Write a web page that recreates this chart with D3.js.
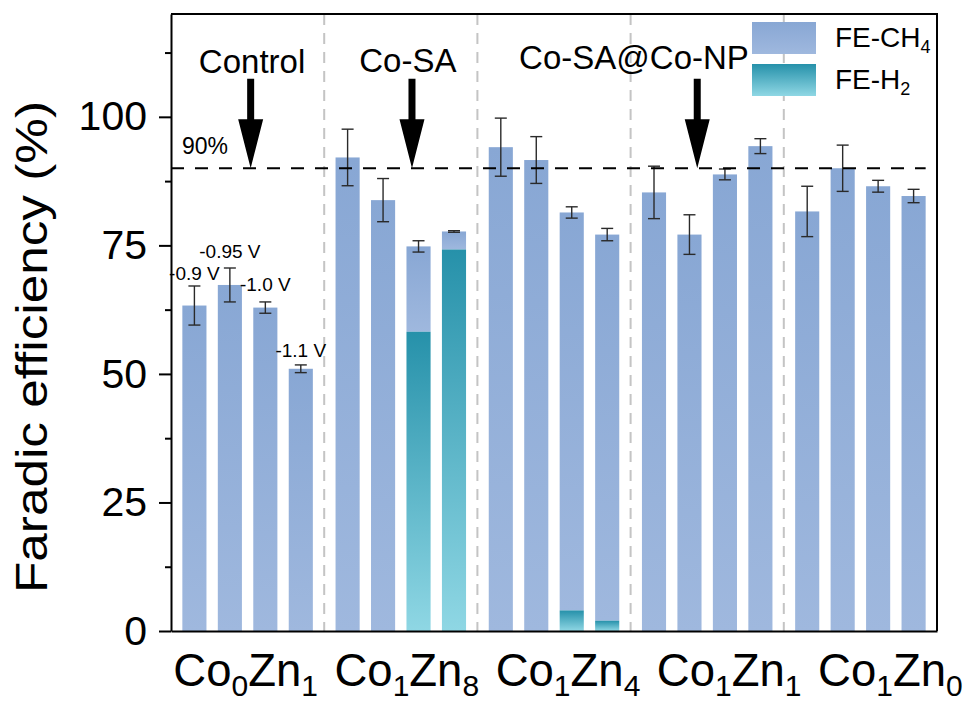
<!DOCTYPE html>
<html>
<head>
<meta charset="utf-8">
<script src="https://cdn.jsdelivr.net/npm/d3@7"></script>
<style>
  body { margin: 0; background: #fff; }
  svg { display: block; font-family: "Liberation Sans", Arial, sans-serif; }
</style>
</head>
<body>
<svg id="chart" width="968" height="704"></svg>
<script>
// ---- data ----
const catalysts = ['Co0Zn1', 'Co1Zn8', 'Co1Zn4', 'Co1Zn1', 'Co1Zn0'];
const potentials = ['-0.9 V', '-0.95 V', '-1.0 V', '-1.1 V'];

// FE-CH4 (%) per catalyst, one value per potential
const feCH4 = [
  [63.3, 67.3, 62.9, 51.0],
  [92.1, 83.8, 16.6, 3.5],
  [94.1, 91.6, 77.4, 75.1],
  [85.3, 77.1, 88.8, 94.3],
  [81.6, 90.0, 86.5, 84.6]
];
// FE-H2 (%) stacked underneath
const feH2 = [
  [0, 0, 0, 0],
  [0, 0, 58.2, 74.2],
  [0, 0, 4.0, 2.0],
  [0, 0, 0, 0],
  [0, 0, 0, 0]
];
// error (+/-) on the total
const feErr = [
  [3.8, 3.3, 1.1, 0.75],
  [5.5, 4.2, 1.1, 0.15],
  [5.65, 4.55, 1.1, 1.2],
  [5.1, 3.85, 1.05, 1.45],
  [4.9, 4.5, 1.15, 1.3]
];

// potential labels above the Control bars (baseline, in %)
const potentialLabelY = [68.3, 72.5, 66.1, 53.3];

// group annotations, x in catalyst units (0..5)
const notes = ['Control', 'Co-SA', 'Co-SA@Co-NP'];
const noteX = [0.529, 1.546, 3.022];
const noteY = [108.5, 108.8, 109.3];
const arrowX = [0.520, 1.573, 3.435];
const arrowTop = 107.4;
const threshold = 90;

const yTicks = [0, 25, 50, 75, 100];
const yMinorTicks = [12.5, 37.5, 62.5, 87.5, 112.5];

// ---- chart ----
const svgEl = document.getElementById('chart');
const margin = { top: 14, right: 31, bottom: 73, left: 171 };
const width = +svgEl.getAttribute('width') - margin.left - margin.right;
const height = +svgEl.getAttribute('height') - margin.top - margin.bottom;

const root = d3.select(svgEl);
const defs = root.append('defs');

const ch4Grad = defs.append('linearGradient').attr('id', 'gradCH4')
  .attr('x1', 0).attr('y1', 0).attr('x2', 0).attr('y2', 1);
ch4Grad.append('stop').attr('offset', '0%').attr('stop-color', '#88a7d4');
ch4Grad.append('stop').attr('offset', '100%').attr('stop-color', '#9fb8de');

const h2Grad = defs.append('linearGradient').attr('id', 'gradH2')
  .attr('x1', 0).attr('y1', 0).attr('x2', 0).attr('y2', 1);
h2Grad.append('stop').attr('offset', '0%').attr('stop-color', '#2691aa');
h2Grad.append('stop').attr('offset', '100%').attr('stop-color', '#8fd7e4');

const svg = root.append('g')
  .attr('transform', `translate(${margin.left},${margin.top})`);

const x = d3.scaleBand().domain(catalysts).range([0, width]).padding(0);
const xInner = d3.scaleBand().domain(potentials).range([0, x.bandwidth()]).padding(0.32);
const xc = d3.scaleLinear().domain([0, catalysts.length]).range([0, width]);
// the category labels sit on a slightly wider spread than the bar groups
const xLabel = d3.scaleBand().domain(catalysts).range([-6, 800]).padding(0);
const y = d3.scaleLinear().domain([0, 120]).range([height, 0]);

// group separators
svg.append('g').attr('class', 'separators')
  .selectAll('line')
  .data(d3.range(1, catalysts.length))
  .join('line')
  .attr('x1', (d) => xc(d)).attr('x2', (d) => xc(d))
  .attr('y1', 0).attr('y2', height)
  .attr('stroke', '#c4c4c4')
  .attr('stroke-width', 2)
  .attr('stroke-dasharray', '11,8');

// flatten bars
const bars = [];
catalysts.forEach((cat, i) => {
  potentials.forEach((pot, j) => {
    bars.push({
      cat, pot,
      ch4: feCH4[i][j],
      h2: feH2[i][j],
      err: feErr[i][j],
      total: feCH4[i][j] + feH2[i][j]
    });
  });
});
const barX = (d) => x(d.cat) + xInner(d.pot);

const barG = svg.append('g').attr('class', 'bars');
barG.selectAll('rect.ch4')
  .data(bars)
  .join('rect')
  .attr('class', 'ch4')
  .attr('x', barX)
  .attr('width', xInner.bandwidth())
  .attr('y', (d) => y(d.total))
  .attr('height', (d) => y(d.h2) - y(d.total))
  .attr('fill', 'url(#gradCH4)');

barG.selectAll('rect.h2')
  .data(bars.filter((d) => d.h2 > 0))
  .join('rect')
  .attr('class', 'h2')
  .attr('x', barX)
  .attr('width', xInner.bandwidth())
  .attr('y', (d) => y(d.h2))
  .attr('height', (d) => y(0) - y(d.h2))
  .attr('fill', 'url(#gradH2)');

// error bars
const errG = svg.append('g').attr('class', 'errors')
  .attr('stroke', '#2a2a2a').attr('stroke-width', 1.4);
const cap = 6;
bars.forEach((d) => {
  const cx = barX(d) + xInner.bandwidth() / 2;
  const g = errG.append('g');
  g.append('line').attr('x1', cx).attr('x2', cx)
    .attr('y1', y(d.total + d.err)).attr('y2', y(d.total - d.err));
  g.append('line').attr('x1', cx - cap).attr('x2', cx + cap)
    .attr('y1', y(d.total + d.err)).attr('y2', y(d.total + d.err));
  g.append('line').attr('x1', cx - cap).attr('x2', cx + cap)
    .attr('y1', y(d.total - d.err)).attr('y2', y(d.total - d.err));
});

// 90 % line
const lastBar = bars[bars.length - 1];
svg.append('line')
  .attr('x1', 0).attr('x2', barX(lastBar) + xInner.bandwidth())
  .attr('y1', y(threshold)).attr('y2', y(threshold))
  .attr('stroke', '#000').attr('stroke-width', 2.2)
  .attr('stroke-dasharray', '13,11');
svg.append('text')
  .attr('x', 11).attr('y', y(threshold) - 14)
  .style('font-size', '23px')
  .text(`${threshold}%`);

// potential labels on the control group
svg.append('g').selectAll('text')
  .data(potentials)
  .join('text')
  .attr('x', (d) => x(catalysts[0]) + xInner(d) + xInner.bandwidth() / 2)
  .attr('y', (d, i) => y(potentialLabelY[i]))
  .attr('text-anchor', 'middle')
  .style('font-size', '19px')
  .text((d) => d);

// annotations + arrows
svg.append('g').selectAll('text')
  .data(notes)
  .join('text')
  .attr('x', (d, i) => xc(noteX[i]))
  .attr('y', (d, i) => y(noteY[i]))
  .attr('text-anchor', 'middle')
  .style('font-size', '33px')
  .text((d) => d);

const arrowPath = (ax) => {
  const tx = xc(ax), ty = y(threshold), top = y(arrowTop);
  const sw = 3.5, hw = 12.5, hl = 49;
  return `M${tx - sw},${top}L${tx + sw},${top}L${tx + sw},${ty - hl}L${tx + hw},${ty - hl}` +
    `L${tx},${ty}L${tx - hw},${ty - hl}L${tx - sw},${ty - hl}Z`;
};
svg.append('g').selectAll('path')
  .data(arrowX)
  .join('path')
  .attr('d', arrowPath)
  .attr('fill', '#000');

// axes
const yAxis = svg.append('g')
  .call(d3.axisLeft(y).tickValues(yTicks).tickSize(12).tickPadding(12).tickSizeOuter(0));
svg.append('g')
  .call(d3.axisLeft(y).tickValues(yMinorTicks).tickSize(6).tickFormat('').tickSizeOuter(0))
  .select('.domain').remove();
yAxis.selectAll('text').style('font-size', '41px').attr('fill', '#000');

// x axis line
svg.append('g')
  .attr('transform', `translate(0,${height})`)
  .call(d3.axisBottom(x).tickSize(0).tickFormat('').tickSizeOuter(0));

// category labels with subscripts
const xLabels = svg.append('g')
  .attr('transform', `translate(0,${height})`)
  .call(d3.axisBottom(xLabel).tickSize(0).tickPadding(23).tickSizeOuter(0));
xLabels.select('.domain').remove();
xLabels.selectAll('text').each(function (d) {
  const t = d3.select(this).text('').style('font-size', '45.5px').attr('fill', '#000');
  const parts = d.match(/[A-Za-z]+|\d+/g);
  parts.forEach((p, k) => {
    const isSub = /\d/.test(p);
    const prevSub = k > 0 && /\d/.test(parts[k - 1]);
    t.append('tspan')
      .attr('dy', isSub ? 10 : (prevSub ? -10 : null))
      .style('font-size', isSub ? '30px' : null)
      .text(p);
  });
});

svg.selectAll('.domain, .tick line').attr('stroke', '#000').attr('stroke-width', 2);

// frame top/right
svg.append('path')
  .attr('d', `M0,0H${width}V${height}`)
  .attr('fill', 'none').attr('stroke', '#000').attr('stroke-width', 2);

// y title
root.append('text')
  .attr('transform', 'translate(47,347) rotate(-90)')
  .attr('text-anchor', 'middle')
  .attr('textLength', 492)
  .attr('lengthAdjust', 'spacingAndGlyphs')
  .style('font-size', '44px')
  .text('Faradic efficiency (%)');

// legend
const legendItems = [
  { fill: 'url(#gradCH4)', main: 'FE-CH', sub: '4' },
  { fill: 'url(#gradH2)', main: 'FE-H', sub: '2' }
];
const legend = svg.append('g')
  .attr('transform', `translate(${width - 185}, 8)`);
legendItems.forEach((item, i) => {
  const row = legend.append('g').attr('transform', `translate(0, ${i * 42})`);
  row.append('rect')
    .attr('width', 64).attr('height', 32)
    .attr('fill', item.fill);
  const t = row.append('text')
    .attr('x', 83).attr('y', 25)
    .style('font-size', '28px');
  t.append('tspan').text(item.main);
  t.append('tspan').attr('dy', 6).style('font-size', '18px').text(item.sub);
});
</script>
</body>
</html>
